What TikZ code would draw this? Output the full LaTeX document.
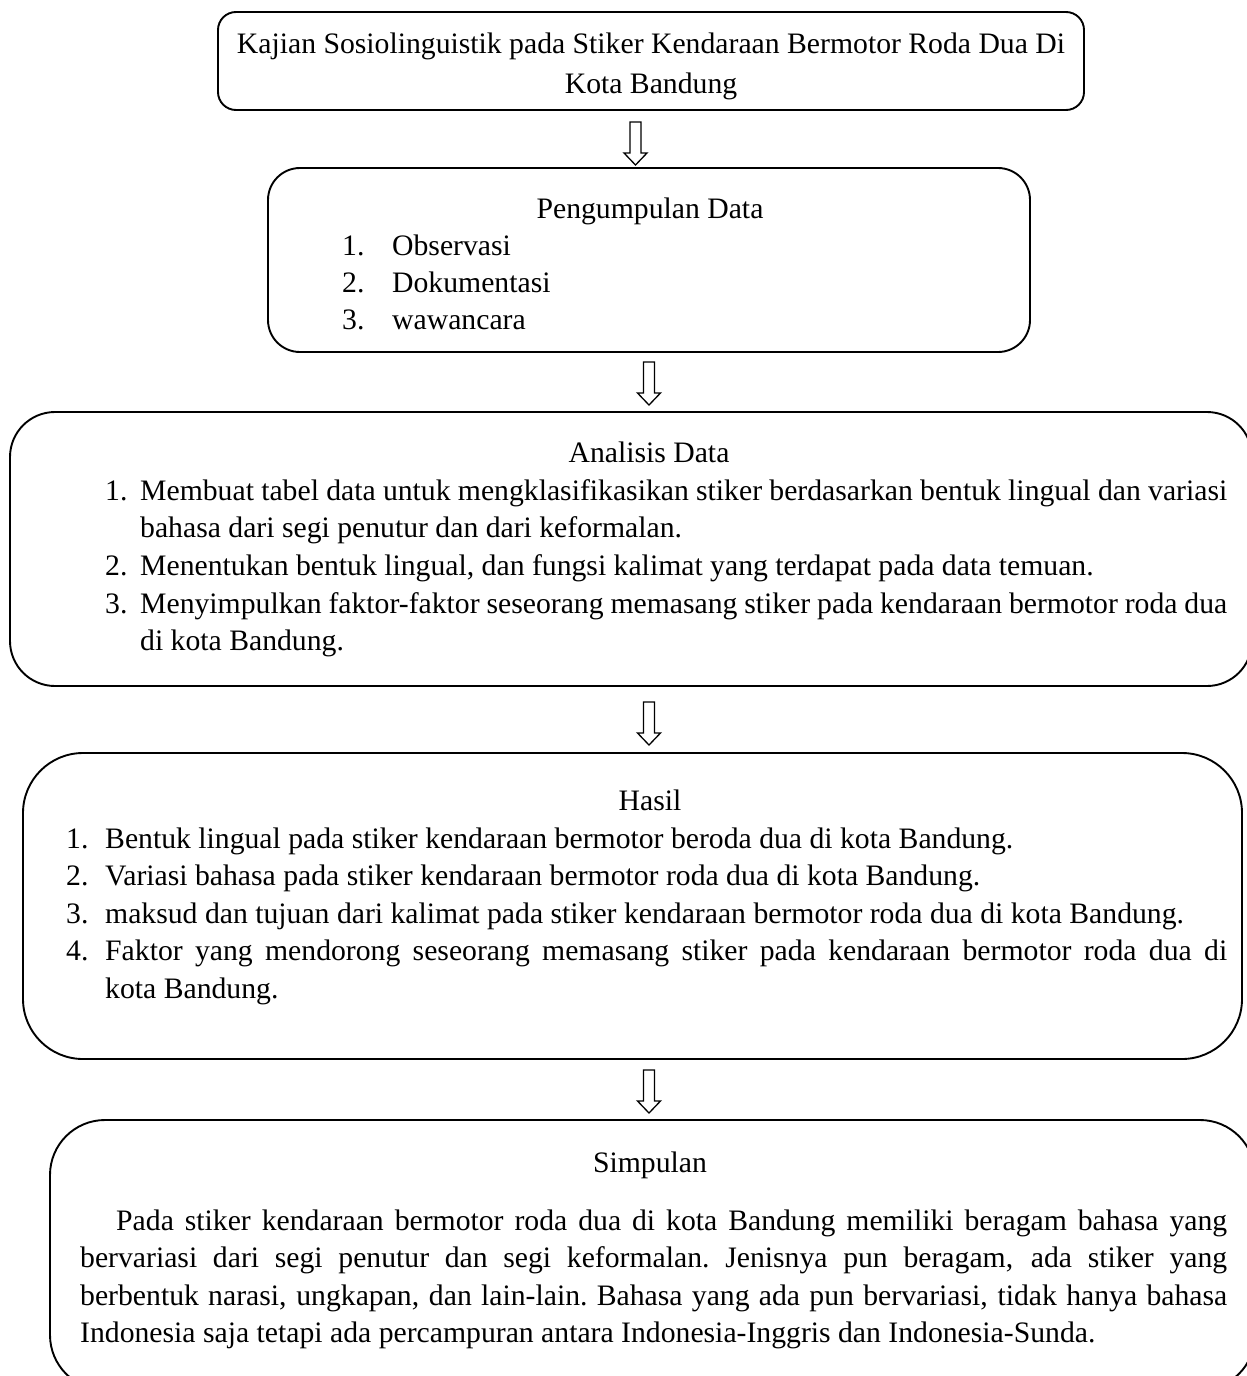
\documentclass[tikz,border=0pt]{standalone}
\usepackage{fontspec}
\setmainfont{Liberation Serif}
\begin{document}
\begin{tikzpicture}[x=1pt,y=-1pt,
  box/.style={draw,fill=white,line width=1.9pt,inner sep=0pt},
  txt/.style={inner sep=0pt,font=\fontsize{29.7}{37}\selectfont},
  harrow/.style={draw,fill=white,line width=1.3pt,line join=miter}]
\useasboundingbox (0,0) rectangle (1247,1376);
\clip (0,0) rectangle (1247,1376);
% boxes
\node[box,rounded corners=18pt,minimum width=866pt,minimum height=98pt] (b1) at (651,61) {};
\node[box,rounded corners=32pt,minimum width=762pt,minimum height=184pt] (b2) at (649,260) {};
\node[box,rounded corners=45pt,minimum width=1242pt,minimum height=274pt] (b3) at (631,549) {};
\node[box,rounded corners=60pt,minimum width=1219pt,minimum height=306pt] (b4) at (632.5,906) {};
\node[box,rounded corners=55pt,minimum width=1205pt,minimum height=270pt] (b5) at (652.5,1255) {};
% hollow down arrows (top centre points)
\coordinate (a1) at (635.5,122);
\coordinate (a2) at (649,362);
\coordinate (a3) at (649,702);
\coordinate (a4) at (649,1070);
\foreach \a in {a1,a2,a3,a4}
  \draw[harrow] (\a) ++(-5.5,0) -- ++(0,31) -- ++(-6,0) -- ++(11.5,12) -- ++(11.5,-12) -- ++(-6,0) -- ++(0,-31) -- cycle;
% box 1
\node[txt,anchor=base] (t11) at (651,53) {Kajian Sosiolinguistik pada Stiker Kendaraan Bermotor Roda Dua Di};
\node[txt,anchor=base] (t12) at (651,93) {Kota Bandung};
% box 2
\node[txt,anchor=base] (t20) at (650,218) {Pengumpulan Data};
\node[txt,anchor=base west] (n21) at (342,255) {1.};
\node[txt,anchor=base west] (t21) at (392,255) {Observasi};
\node[txt,anchor=base west] (n22) at (342,292) {2.};
\node[txt,anchor=base west] (t22) at (392,292) {Dokumentasi};
\node[txt,anchor=base west] (n23) at (342,329) {3.};
\node[txt,anchor=base west] (t23) at (392,329) {wawancara};
% box 3
\node[txt,anchor=base] (t30) at (649,462) {Analisis Data};
\node[txt,anchor=base west] (n31) at (105,500) {1.};
\node[txt,anchor=base west] (t31a) at (140,500) {\makebox[1087pt][s]{Membuat tabel data untuk mengklasifikasikan stiker berdasarkan bentuk lingual dan variasi}};
\node[txt,anchor=base west] (t31b) at (140,537) {bahasa dari segi penutur dan dari keformalan.};
\node[txt,anchor=base west] (n32) at (105,575) {2.};
\node[txt,anchor=base west] (t32) at (140,575) {Menentukan bentuk lingual, dan fungsi kalimat yang terdapat pada data temuan.};
\node[txt,anchor=base west] (n33) at (105,613) {3.};
\node[txt,anchor=base west] (t33a) at (140,613) {\makebox[1087pt][s]{Menyimpulkan faktor-faktor seseorang memasang stiker pada kendaraan bermotor roda dua}};
\node[txt,anchor=base west] (t33b) at (140,650) {di kota Bandung.};
% box 4
\node[txt,anchor=base] (t40) at (650,810) {Hasil};
\node[txt,anchor=base west] (n41) at (66,848) {1.};
\node[txt,anchor=base west] (t41) at (105,848) {Bentuk lingual pada stiker kendaraan bermotor beroda dua di kota Bandung.};
\node[txt,anchor=base west] (n42) at (66,885) {2.};
\node[txt,anchor=base west] (t42) at (105,885) {Variasi bahasa pada stiker kendaraan bermotor roda dua di kota Bandung.};
\node[txt,anchor=base west] (n43) at (66,923) {3.};
\node[txt,anchor=base west] (t43) at (105,923) {maksud dan tujuan dari kalimat pada stiker kendaraan bermotor roda dua di kota Bandung.};
\node[txt,anchor=base west] (n44) at (66,960) {4.};
\node[txt,anchor=base west] (t44a) at (105,960) {\makebox[1122pt][s]{Faktor yang mendorong seseorang memasang stiker pada kendaraan bermotor roda dua di}};
\node[txt,anchor=base west] (t44b) at (105,998) {kota Bandung.};
% box 5
\node[txt,anchor=base] (t50) at (650,1172) {Simpulan};
\node[txt,anchor=base west] (t51) at (116,1230) {\makebox[1111pt][s]{Pada stiker kendaraan bermotor roda dua di kota Bandung memiliki beragam bahasa yang}};
\node[txt,anchor=base west] (t52) at (80,1267) {\makebox[1147pt][s]{bervariasi dari segi penutur dan segi keformalan.\ Jenisnya pun beragam, ada stiker yang}};
\node[txt,anchor=base west] (t53) at (80,1305) {\makebox[1147pt][s]{berbentuk narasi, ungkapan, dan lain-lain.\ Bahasa yang ada pun bervariasi, tidak hanya bahasa}};
\node[txt,anchor=base west] (t54) at (80,1342) {Indonesia saja tetapi ada percampuran antara Indonesia-Inggris dan Indonesia-Sunda.};
\end{tikzpicture}
\end{document}
